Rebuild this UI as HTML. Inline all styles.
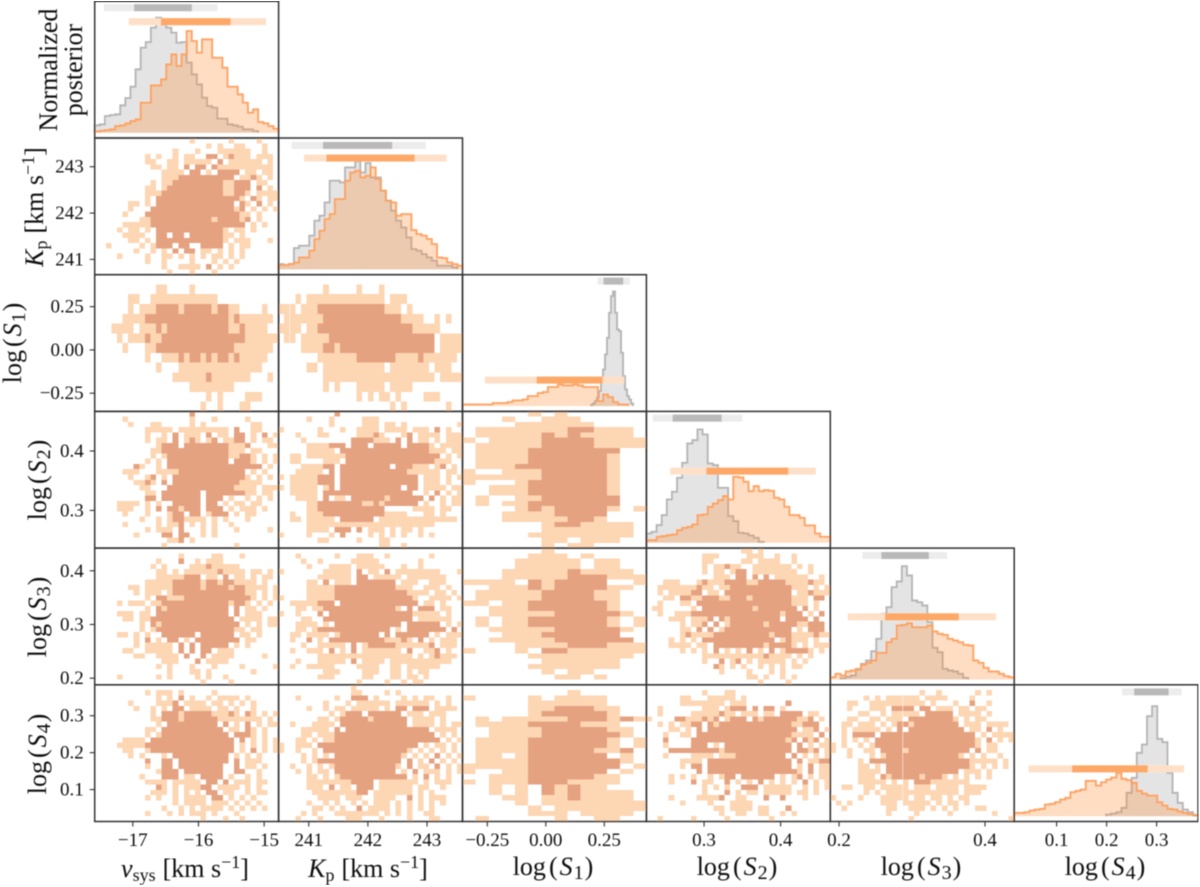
<!DOCTYPE html>
<html>
<head>
<meta charset="utf-8">
<title>Corner plot</title>
<style>
html,body{margin:0;padding:0;background:#fff;}
svg{display:block;font-family:"Liberation Serif",serif;fill:#111;}
</style>
</head>
<body>
<svg id="chart" xmlns="http://www.w3.org/2000/svg" width="1200" height="887" viewBox="0 0 1200 887">
<defs><filter id="soft" x="0" y="0" width="100%" height="100%"><feGaussianBlur stdDeviation="0.6"/></filter></defs>
<rect width="1200" height="887" fill="#fff"/>
<g id="root" filter="url(#soft)">
<g id="marks"></g>
<g id="labels" font-size="26">
<text transform="translate(57,70) rotate(-90)" text-anchor="middle">Normalized</text>
<text transform="translate(82,70) rotate(-90)" text-anchor="middle">posterior</text>
<text transform="translate(43,207) rotate(-90)" text-anchor="middle"><tspan font-style="italic">K</tspan><tspan dy="4" font-size="18">p</tspan><tspan dy="-4" dx="7">[km s</tspan><tspan dy="-9" font-size="18">−1</tspan><tspan dy="9">]</tspan></text>
<text transform="translate(21,343) rotate(-90)" text-anchor="middle">log<tspan dx="3">(</tspan><tspan dx="2" font-style="italic">S</tspan><tspan dy="4" dx="1" font-size="20">1</tspan><tspan dy="-4" dx="1">)</tspan></text>
<text transform="translate(46,480) rotate(-90)" text-anchor="middle">log<tspan dx="3">(</tspan><tspan dx="2" font-style="italic">S</tspan><tspan dy="4" dx="1" font-size="20">2</tspan><tspan dy="-4" dx="1">)</tspan></text>
<text transform="translate(46,617) rotate(-90)" text-anchor="middle">log<tspan dx="3">(</tspan><tspan dx="2" font-style="italic">S</tspan><tspan dy="4" dx="1" font-size="20">3</tspan><tspan dy="-4" dx="1">)</tspan></text>
<text transform="translate(46,754) rotate(-90)" text-anchor="middle">log<tspan dx="3">(</tspan><tspan dx="2" font-style="italic">S</tspan><tspan dy="4" dx="1" font-size="20">4</tspan><tspan dy="-4" dx="1">)</tspan></text>
<text x="185" y="877" text-anchor="middle"><tspan font-style="italic">v</tspan><tspan dy="4" font-size="18">sys</tspan><tspan dy="-4" dx="7">[km s</tspan><tspan dy="-9" font-size="18">−1</tspan><tspan dy="9">]</tspan></text>
<text x="368" y="877" text-anchor="middle"><tspan font-style="italic">K</tspan><tspan dy="4" font-size="18">p</tspan><tspan dy="-4" dx="7">[km s</tspan><tspan dy="-9" font-size="18">−1</tspan><tspan dy="9">]</tspan></text>
<text x="553" y="875" text-anchor="middle">log<tspan dx="3">(</tspan><tspan dx="2" font-style="italic">S</tspan><tspan dy="4" dx="1" font-size="20">1</tspan><tspan dy="-4" dx="1">)</tspan></text>
<text x="737" y="875" text-anchor="middle">log<tspan dx="3">(</tspan><tspan dx="2" font-style="italic">S</tspan><tspan dy="4" dx="1" font-size="20">2</tspan><tspan dy="-4" dx="1">)</tspan></text>
<text x="921" y="875" text-anchor="middle">log<tspan dx="3">(</tspan><tspan dx="2" font-style="italic">S</tspan><tspan dy="4" dx="1" font-size="20">3</tspan><tspan dy="-4" dx="1">)</tspan></text>
<text x="1105" y="875" text-anchor="middle">log<tspan dx="3">(</tspan><tspan dx="2" font-style="italic">S</tspan><tspan dy="4" dx="1" font-size="20">4</tspan><tspan dy="-4" dx="1">)</tspan></text>
</g>
</g>
</svg>
<script>
// Parameters and axis ranges
const parameters = ['vsys','kp','s1','s2','s3','s4'];
const xDomains = [[-17.58,-14.78],[240.49,243.6],[-0.356,0.43],[0.2247,0.4649],[0.188,0.44],[0.0152,0.383]];
const yDomains = [[0,1],[240.67,243.62],[-0.355,0.4346],[0.2366,0.4666],[0.1877,0.4422],[0.0135,0.3838]];
const xTickValues = [[-17,-16,-15],[241,242,243],[-0.25,0,0.25],[0.3,0.4],[0.2,0.4],[0.1,0.2,0.3]];
const xTickLabels = [['−17','−16','−15'],['241','242','243'],['−0.25','0.00','0.25'],['0.3','0.4'],['0.2','0.4'],['0.1','0.2','0.3']];
const yTickValues = [[],[241,242,243],[-0.25,0,0.25],[0.3,0.4],[0.2,0.3,0.4],[0.1,0.2,0.3]];
const yTickLabels = [[],['241','242','243'],['−0.25','0.00','0.25'],['0.3','0.4'],['0.2','0.3','0.4'],['0.1','0.2','0.3']];

// 1D posteriors: sample counts per bin
const grayBins = [
 [22,25,50,53,55,82,104,138,190,255,272,315,345,325,315,300,270,272,210,175,145,105,80,75,42,42,25,22,18,10,10,5,0,0,0,0],
 [16,13,16,64,71,71,101,146,161,201,266,266,261,306,306,324,291,319,276,276,236,206,176,146,126,96,61,56,46,36,26,11,11,11,6,0],
 [3,8,15,25,45,75,110,155,205,280,330,344,280,230,225,160,90,50,30,20,8],
 [28,33,53,83,130,153,195,240,298,308,340,325,238,233,165,165,80,65,30,28,22,15,3,0,0,0,0,0,0,0,0,0,0,0,0,0],
 [0,0,4,8,12,32,47,57,85,122,197,217,277,294,340,312,237,232,222,172,95,82,32,27,24,17,5,0,0,0,0,0,0,0,0,0],
 [0,0,0,0,0,0,0,0,0,0,0,0,0,0,0,0,0,0,5,8,12,25,70,115,190,215,300,330,232,222,130,70,40,20,12,2]
];
const orangeBins = [
 [4,6,8,10,20,22,28,35,40,90,90,142,142,160,205,235,200,235,305,275,240,280,280,225,225,195,138,138,115,90,60,70,32,28,20,12],
 [13,13,16,21,36,36,56,91,116,151,166,211,211,266,291,296,276,281,306,271,236,206,201,161,166,166,118,106,101,91,76,36,34,21,16,11],
 [5,5,5,5,5,5,9,9,9,12,17,17,20,30,30,39,42,57,57,65,62,62,65,62,57,57,57,15,35,27,12,5,5],
 [8,8,18,20,23,25,38,45,48,55,83,85,108,118,128,140,130,198,196,183,155,170,155,158,156,135,130,108,83,83,75,52,52,28,18,18],
 [7,17,12,24,27,30,44,50,57,80,80,112,122,162,164,169,157,157,157,162,144,137,134,122,117,112,104,102,57,50,35,24,24,17,10,7],
 [10,10,12,17,20,22,35,37,42,50,55,72,76,80,106,106,92,102,110,116,130,112,108,100,76,68,62,62,42,32,22,20,14,10,6,4]
];
const grayBinRanges = [[-17.58,-14.78],[240.49,243.6],[0.193,0.373],[0.2247,0.4649],[0.188,0.44],[0.0152,0.383]];
const orangeBinRanges = [[-17.58,-14.78],[240.49,243.6],[-0.356,0.352],[0.2247,0.4649],[0.188,0.44],[0.0152,0.383]];

// Credible intervals: [low 2-sigma, low 1-sigma, high 1-sigma, high 2-sigma]
const grayIntervals = [[-17.44,-16.98,-16.10,-15.71],[240.71,241.24,242.41,242.98],[0.222,0.247,0.331,0.359],[0.233,0.259,0.323,0.350],[0.232,0.258,0.323,0.348],[0.231,0.255,0.324,0.350]];
const orangeIntervals = [[-17.06,-16.57,-15.51,-14.97],[240.92,241.30,242.79,243.33],[-0.260,-0.039,0.243,0.336],[0.256,0.303,0.410,0.446],[0.212,0.263,0.364,0.415],[0.044,0.131,0.282,0.355]];
const grayIntervalLevels = [375,372,375,374,372,373];
const orangeIntervalLevels = [333,334,78,215,188,142];

// 2D posteriors: density level per cell, rows top to bottom ('.'=empty, 1=outer, 2=inner)
const gridKpVsys = [
".................1......1....1...",
"....................1.1..11...1..",
"..............1...1...111111..1..",
".........1.1..1.11..22.12111.111.",
".........11..11.11111.2.111111.1.",
"..........11.11.2.22.21111111111.",
"............1111.22.1.2222.11.11.",
"............1112222222222.1121.1.",
"..........1.1122222222211222.11..",
".........11.1222222222211222.2.1.",
".........1112222222222211221.1111",
".........1.2222222222222221.21.11",
"......11.1.22222222222222.21.2.1.",
"......1...22222222222222212.1.1.1",
".....1...2222222222222222211.1...",
"........11222222222221222212.1...",
".....1111122222222222222222.1.1..",
"....1.11.1.2222222222221.11.1....",
".....1111..22.22.22222211.1......",
"......11.1.2222222222221.111...1.",
"..1.....1.1222.22..2222.1.11.....",
".......1..1.1.2.22.11.1.1.1......",
"....1....1..11.1.1.1.11.1.1......",
".........1..1....1...1.1.1.......",
"............1..1111.2.1.1........",
".............1...1...1..........."];
const gridS1Vsys = [
"",
"...........11....1",
"......11..111111111111",
"......1.111222212222212211....1",
".....111122222222222222212111111",
"...1111.11121222222222221121111",
"....1.111211222222222222222111111",
".....1...11222222222222221111111",
".........1..1112122121221211111",
"...........1...111111111111111",
"..............11111121111111...1.1",
".................11111111",
"....................1.1....111",
"...................1..1...11"];
const gridS1Kp = [
"",
"........1.....1...1",
"...1.11111111111111.111",
"111.111222222222222111.1",
".1111111222222222222221111..1.1",
"1111.112222222222222222211111",
".11.111112222222222222222222.1111",
"....111122122222222222222222.11111",
".......1111111222222211112111111",
".....11.11111111111.1111111.111",
"........11111111111111111111.1111",
"........1.1...11111.1111",
"..............1.1.11.1....111",
"....................1.1.......1"];
const gridS2Vsys = [
".................2...............",
".....1...........1...1.....1.....",
"......1...11.....1.1........11...",
".........11111.111111111.2..11...",
".........1..1.2.111.2.11.22.1.2.1",
".........1.11.2.121.12.1122.1.11.",
"...........1222.222222221112...11",
"..........11222222222222111.11...",
"..........1.12222222222211221.1.1",
".........1.1.22222222222.2221.1.1",
".......21..1.22222222222222222.1.",
".....111...1111222222222222.1.1..",
"......1..12.1.22222222222221.1.1.",
".......1121.2.2222222222221111...",
"........11...2222222222221111.111",
".........11.2222222.222222211.11.",
".........22.2222222.222.1..1.1.1.",
"....1111.1.1..22222.22.1.11.11...",
"....111..1.2.221222.222.1.111.1..",
".....1...1...122.22.1222.1.11....",
"........1..1.1221111.1.1...1.....",
".....1.....1.112.1.1.1..1........",
".........1.111.2...1.1...1.....1.",
".......1....22.22..1.1...........",
".............112.1...............",
"............1............1......."];
const gridS2Kp = [
"..........2......................",
".....1...1.....111...............",
".........1.....111.11.1.........1",
"1......1...1..1111.1111.111.2.1..",
"...1...11.....11121...12.1111.111",
"....1........2222111.2.2.11.1.111",
".....1111222.222.22222.22221.1111",
".....11111.2222222222222222111.11",
"..11.111111122222222222222222.1.1",
"..11....111.2222222222222222111..",
"....111122.222222222.222111.12.1.",
"...11111.2.222222222222111111.11.",
"1.11111222.22222222222222.111.1.1",
"..11111222.22222222222222.111.1..",
"1.11111.12.22222222222.22.1111.11",
"..11111.2222222222222222..1.2.1.1",
"...1111.2.11.2222221222222.2.1.11",
".....11222222221121222222.1..1.11",
".....11222222222222.....1111.11..",
"..1..111222222222221111...11.1...",
"..11.11111.222222.11111111111111.",
".....11111111111111111111111.....",
".....1111.222.2.111.1.11.1.......",
"1....1...1.2....1.1.1.1..1.1.....",
".......11.....1...11.............",
"..................11..1.........."];
const gridS2S1 = [
".....1.1",
"...1..111",
"....111111",
".111111122111",
".111112121111",
"1.111122221111",
".1111122221111",
".11112222222",
".11112222221",
".11112222221",
".11122222221",
"1..111222221",
"111111222221",
"1...12222221",
"..1112222221",
"..1112222221",
".1..11222222",
".1.112222222",
"....12122221.1",
"...11112222",
"...11111221",
"......1221111",
"......1111111",
".....11111111",
"......11.111",
"......1.11"];
const gridS3Vsys = [
"",
"...............1.....11...1......",
"...........1...2..1.111..........",
"..........1.1....111211111.......",
"...........11.1.11111121111.11.1.",
"...........11111222.11.2.11.1.11.",
".........11111222221221221111.1..",
"......11.1111122222122221221111.1",
".......1.111.1222222222222211.1.1",
".........1.221112222222222221.1.1",
"....1.111.112222222222221221.1.1.",
".........1.2122222222222.2.11.1..",
"....111.11.2222222222222.2.111...",
".....11.11222222222222222.1111.11",
"........1.2122222222222222.1.1.11",
"........1.12222222222222211.11...",
"....11.1.1..222222.222222.11.1...",
".......1.2.1.22.1.22222222.11....",
".......1.11111.2.2.22222.1.1.....",
".....11..11111.2.2.22.111........",
".......11..1111.2..2.1111.....1..",
"............111...2.1111.........",
"...........1.1...1...1....1.....1",
".............1...11.1.......1....",
"....1......1.1....1.1..1.........",
"...................1....1........"];
const gridS3Kp = [
"",
"...1......1...111..1.......1.....",
"....1..1.....11111.......1.......",
".....1...1111.11111...1..1.......",
"1.......11111.2.11.2.11111111...1",
".......111111.22.11111.1111111...",
".....11.2.111.2222222.111..111...",
".....1111122222222222111..111.1..",
".....1111122222222222221111.11.1.",
"1....11111222222222222221..1111.1",
"..11111222.22222222222222.11.1...",
"...11.1122222222222221.2.222.11..",
"1..1...2.22222222222222211111.1..",
"....11..2222222222222222.111111..",
"...1111.1.222222222222.222222.1.1",
"...11.12222222222222.1.2222222.2.",
"..11.1111.12222222.2.222222.1.111",
"..1..2.1.222222222211121.2.1.111.",
"....1..11111.2.1222221111112.111.",
"..1..111.2.1.2.1111111.2..112.1..",
".......11111111111111111.1.12111.",
"...1...11111.2.1111.11111111111..",
"..1..11111....1111..11.111111....",
"........111....111..11.1.11......",
".......111.....11...11.11.1......",
"..............1....1..1.11......."];
const gridS3S1 = [
"......1",
".....111.1",
"....11111.11",
"....11111.11",
"...1111121111",
"...11111222111",
"1111.212222..1",
"..11121222211",
".11111222211",
".11111222211",
"11.112222221",
"..1112222221",
"..11111222221",
".1.112222221.1",
".1.112222221.1",
"..11111222221",
"...111222222",
"..11111222222",
"....1111222111",
"1...1.22111111",
".....11111111",
"......111111",
".....1111111",
"......1.11",
".......11.1",
""];
const gridS3S2 = [
".................11.1",
"..........111.....111..1..1",
"..........11.....11.1111..1",
"..........1.11211..1111111.1.1",
"..........1.11.122.11111111..1",
"............111.22.2.2.111111..1",
"...111...12111222211222221111211",
"..1111111211.1122222222222111.1.1",
"..1.111122.11.222222222222.112111",
"...11.22112221122212222222111.22",
"..1...11.22222222222222222111.1",
".11.....1.22222222212222222.2.1.",
"..1..11122222222222222221222.1.2.",
"....111.1112.21222222222.2222.2",
"......1.112.2.122222212222211222.",
"......11.2.2.1222222222222.1.222.",
"......121111222222222212221111211",
"....1.1.1.2222222222222.12111.1",
"....1111.11.222222222122221.1.111",
"......1.1.1.2.1.1.2.1.2.122221.1",
"..........1111111111121111.1.1",
"..........1..2.12.1.11111.1.1",
"............21.1.1..1.1.1.11",
".............1....1...1.1",
"..................11.1..1.1",
"....................1....1"];
const gridS4Vsys = [
"",
".........1.111.1.....1...........",
"...........1.1.2.1..1.1111.1.....",
"......1....1112.1111.11.1.1.1....",
".......1..1.1.22.1111.11.1..1....",
"..........1.22212222211121.21.1.1",
"..........11222122222211111111.1.",
"...........1.222222222.2.1.2.1.11",
".........11.22222222222.11.21.1..",
".........1.1222222222222.2221.1..",
".....1111.222222222222222.2.1.1.1",
"....111112222222222222222.1.1.1.1",
".....11..1222222222222222.1.2.1.1",
"......1.1...1.2222222222.1.1.1...",
".........2..22.222222222.2.111...",
".........1..22.22222222..2.11.1..",
"...........1222.2222222..22..1...",
"........1...222.11.2222.1..1.1...",
".........1111.11111.22.2.111.11..",
"...........21.1.11122.1111.1.1...",
"..........111.1.1.1.22.11..1.11..",
".........1.1..1.1111.22.1.1.1....",
"..............1.1111.111.1.1.1...",
"............1..1.1.1111.1.1.1.1..",
".........1...1.1.111.1...1.......",
"...................1...1..1......"];
const gridS4Kp = [
".............1...................",
".............11....1.1...........",
"...1......1..222.1....1.1.11..1..",
"........1...1.111111.111111.1.1..",
".....1..1.11.11111.1.22.222.1111.",
".........1.1222.222222.111.111...",
".......11.1222221222222.1111.1...",
"..1...1111.222222222222.1111.1.11",
"....11111.2.222222222222222.1111.",
"....11.111222222222222222222.1.1.",
"...11.1.112222222222222222222.1.1",
"1..111.222222222222222222.1.11.1.",
"1..1..1.2222222222222221.1.1.1.1.",
"....1.1.1.2222222222221.1.1.2.1.1",
"....1.1222222222222222.2.1.2.1.1.",
"..1..1.1.1222222222221.2.11.2.1.1",
"...1.1.11.22222222222.1.2.111.1.1",
".....11.1.1222222222222.1.2.1.1..",
".....111111112222.1111111.1.111..",
".....111.2.11.222.111111.11..1...",
"......1111111122.1111111.1.1.....",
".......1111.111..1111..2.1.111...",
".....1..1.1..1.1.111.1.1.1.1.1...",
"......11.1.1..2.1111.1.1.1.1.....",
"....1.1...11111111.1.1.1..11.....",
"...1...1....111...1....1...11...."];
const gridS4S1 = [
"",
"........1",
"1....1.1111",
".....111111",
".....1122211",
".....1222221",
".1.11111222121",
".11112222111",
"..11112222211",
"..11112222221.1",
".11112222221.1",
".11112222221.1",
".111122222112",
".11.1222222.1",
".111122222221",
"111112222222.1",
"1..11222222.1",
"..1112222211",
"1.1112221111",
"..1.1.21211",
"..1.1.2121111",
"...11.1121111",
"....1.11111111",
".....1.1111111",
".....111.1111",
".1.....1..11"];
const gridS4S2 = [
"",
"..........1...11",
"......11...11111.1",
"......11111111.111.......2",
"..1.......111.1222.2.22.1",
"..1.....11111211.111.11.2222.11",
"1....22111212.1222.21222222112.1",
"..1.1.1122.21222222222222211222",
"....11.1.2.2222222222222222.112.1",
"...1..11.222222222222222221111.2",
"...2....2222222222222222212.212.1",
"...1....222.1.222222222222.2.1.11",
"....2222222221222222222222.2212.1",
"...1....1111.111222222222.2.1.1.1",
"......1111.222222222222222.2.1122",
"......1.22.222222222222222.1.2.11",
".........2.22222222222222221.2.11",
"....1.1.1..1.122.222222.1.12.1.11",
"....1...2.11..2.1.1.2.1.1.1.2.1.1",
"..........1.1.1..222.11111..1.1.1",
"..........1...2.1.11.11111.11.1",
"....1....11112..11...2..2...1",
"......1....1...1111",
"............11.1111.11...2",
".............1..11..11..1.1",
"..1.....1.....1.......1"];
const gridS4S3 = [
"",
"................1..1......1.1....",
"......1.1.111111.1111....1.......",
"...11..1111111111.1...1..2..1....",
"...1...111.2222.22.111.11.11.....",
".....11..1.11111.22222.1111.1....",
"...11..11.111.222222221.1.11.....",
"..11.111.1.122122222222.111.1111.",
"..1.11111.1.2.2222222222.11.2.1..",
"..1.2222.22222222222222222.1.1111",
"..1.1.1.2222222222222222221.2.1.1",
"1.1..1.12222222222222222221.11...",
"1..1..11.2222122222222222.2.11...",
"...1...1.122222222222221.1.1..1.",
".....1.22222222222222222211111.1.",
".....11.1.2222222222222221.1.1.1",
".....1111.2222222222222.111.1....",
".....111.212222212221.1.1.1.1....",
".....11111.1.1.2221111111........",
"..11..11.11111.111.1111.1111.....",
"......1.1.1111111111111.111......",
"1....1...11111.11.11.1.11........",
".1.1.....111.11111.1.11.1........",
"..1.......11..111.1.1.1...11.....",
"..........1....1.....1.......1...",
"..............1.................1"];

// Which 2D grid sits in which panel, by row and column parameter
const heatmapPanels = [
 {row:1,col:0,cells:gridKpVsys},
 {row:2,col:0,cells:gridS1Vsys},{row:2,col:1,cells:gridS1Kp},
 {row:3,col:0,cells:gridS2Vsys},{row:3,col:1,cells:gridS2Kp},{row:3,col:2,cells:gridS2S1},
 {row:4,col:0,cells:gridS3Vsys},{row:4,col:1,cells:gridS3Kp},{row:4,col:2,cells:gridS3S1},{row:4,col:3,cells:gridS3S2},
 {row:5,col:0,cells:gridS4Vsys},{row:5,col:1,cells:gridS4Kp},{row:5,col:2,cells:gridS4S1},{row:5,col:3,cells:gridS4S2},{row:5,col:4,cells:gridS4S3}
];

const SVGNS = 'http://www.w3.org/2000/svg';
const marks = document.getElementById('marks');
const LEFT = 94.7, TOP = 1.3, PW = 183.9, PH = 136.7, BASE_INSET = 5.3, COUNT_PX = 1/3;

function panelLeft(c){ return LEFT + c*PW; }
function panelTop(r){ return TOP + r*PH; }
function xScale(col, v){ const d = xDomains[col]; return panelLeft(col) + (v-d[0])/(d[1]-d[0])*PW; }
function yScale(row, v){ const d = yDomains[row]; return panelTop(row) + PH - (v-d[0])/(d[1]-d[0])*PH; }
function countScale(row, n){ return panelTop(row) + PH - BASE_INSET - n*COUNT_PX; }

function make(tag, attrs){
  const el = document.createElementNS(SVGNS, tag);
  for (const k in attrs) el.setAttribute(k, attrs[k]);
  marks.appendChild(el);
  return el;
}

function colsFor(col){ return col === 2 ? 14 : 33; }
function rowsFor(row){ return row === 2 ? 14 : 26; }

function drawHeatmap(p){
  const nc = colsFor(p.col), nr = rowsFor(p.row);
  const cw = PW/nc, ch = PH/nr;
  p.cells.forEach(function(line, r){
    for (let c = 0; c < Math.min(line.length, nc); c++){
      const level = line[c];
      if (level !== '1' && level !== '2') continue;
      const cell = make('rect', {
        x: (panelLeft(p.col)+c*cw).toFixed(2), y: (panelTop(p.row)+r*ch).toFixed(2),
        width: cw.toFixed(2), height: ch.toFixed(2),
        fill: level === '2' ? '#e5a280' : '#fdd6b3', 'shape-rendering': 'crispEdges'
      });
      
      
    }
  });
}

function drawHistogram(idx, bins, range, fill, stroke, name){
  let first = 0, last = bins.length-1;
  while (first < last && bins[first] === 0) first++;
  while (last > first && bins[last] === 0) last--;
  const w = (range[1]-range[0])/bins.length;
  const base = countScale(idx, 0);
  const x0 = xScale(idx, range[0]+first*w);
  let line = 'M' + x0.toFixed(2) + ' ' + base.toFixed(2);
  for (let i = first; i <= last; i++){
    const xa = xScale(idx, range[0]+i*w), xb = xScale(idx, range[0]+(i+1)*w), y = countScale(idx, bins[i]);
    line += 'L' + xa.toFixed(2) + ' ' + y.toFixed(2) + 'L' + xb.toFixed(2) + ' ' + y.toFixed(2);
  }
  const xEnd = xScale(idx, range[0]+(last+1)*w);
  line += 'L' + xEnd.toFixed(2) + ' ' + base.toFixed(2);
  const fillPath = make('path', {d: line+'Z', fill: fill, stroke: 'none'});
  
  
  const strokePath = make('path', {d: line, fill: 'none', stroke: stroke, 'stroke-width': 1.9});
  
  
}

function drawInterval(idx, iv, level, colorLight, colorDark, name){
  const y = countScale(idx, level);
  const outer = make('rect', {x: xScale(idx, iv[0]).toFixed(2), y: (y-3.5).toFixed(2), width: (xScale(idx, iv[3])-xScale(idx, iv[0])).toFixed(2), height: 7, fill: colorLight});
  
  
  const inner = make('rect', {x: xScale(idx, iv[1]).toFixed(2), y: (y-3.5).toFixed(2), width: (xScale(idx, iv[2])-xScale(idx, iv[1])).toFixed(2), height: 7, fill: colorDark});
  
  
}

function drawFrame(r, c){
  const frame = make('rect', {x: panelLeft(c), y: panelTop(r), width: PW, height: PH, fill: 'none', stroke: '#333', 'stroke-width': 1.5});
  
  
}

function drawXTicks(c){
  const bottom = panelTop(5)+PH;
  xTickValues[c].forEach(function(v, i){
    const x = xScale(c, v);
    const tick = make('line', {x1: x, x2: x, y1: bottom, y2: bottom+5, stroke: '#333', 'stroke-width': 1.1});
    
    
    const label = make('text', {x: x, y: 846, 'text-anchor': 'middle', 'font-size': 19});
    
    
    label.textContent = xTickLabels[c][i];
  });
}

function drawYTicks(r){
  yTickValues[r].forEach(function(v, i){
    const y = yScale(r, v);
    const tick = make('line', {x1: LEFT-5, x2: LEFT, y1: y, y2: y, stroke: '#333', 'stroke-width': 1.1});
    
    
    const label = make('text', {x: LEFT-11, y: y+6, 'text-anchor': 'end', 'font-size': 19});
    
    
    label.textContent = yTickLabels[r][i];
  });
}

heatmapPanels.forEach(drawHeatmap);

parameters.forEach(function(p, i){
  drawHistogram(i, grayBins[i], grayBinRanges[i], 'rgba(120,120,120,0.2)', 'rgba(175,175,175,0.9)', 'gray-posterior-' + p);
  drawHistogram(i, orangeBins[i], orangeBinRanges[i], 'rgba(253,141,60,0.3)', 'rgba(253,160,95,0.95)', 'orange-posterior-' + p);
  drawInterval(i, grayIntervals[i], grayIntervalLevels[i], '#ececec', '#b9b9b9', 'gray-' + p);
  drawInterval(i, orangeIntervals[i], orangeIntervalLevels[i], '#fee0c8', '#fda866', 'orange-' + p);
});

heatmapPanels.forEach(function(p){ drawFrame(p.row, p.col); });
parameters.forEach(function(p, i){ drawFrame(i, i); drawXTicks(i); drawYTicks(i); });
</script>
</body>
</html>
